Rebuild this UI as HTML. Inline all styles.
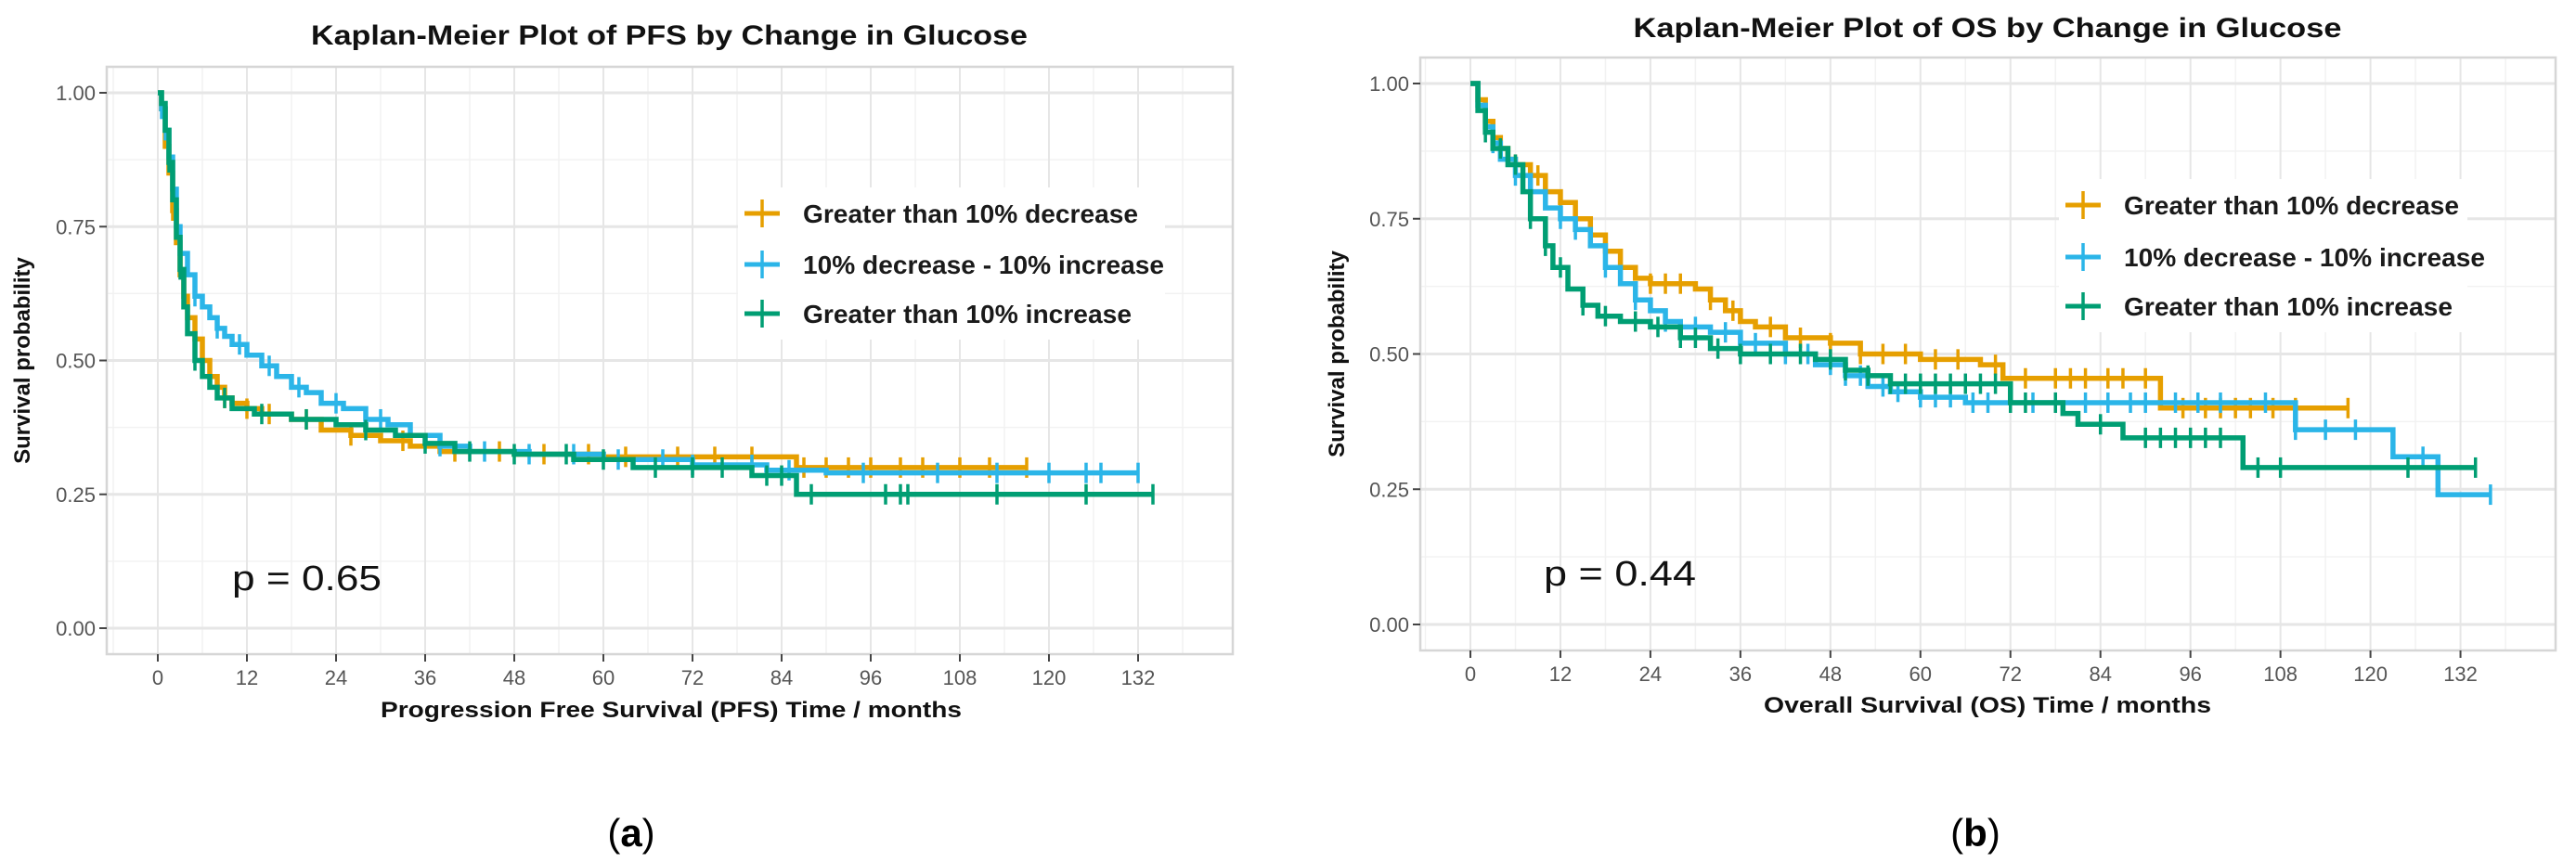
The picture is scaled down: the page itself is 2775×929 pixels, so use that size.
<!DOCTYPE html>
<html><head><meta charset="utf-8"><style>
html,body{margin:0;padding:0;background:#fff;}
svg{display:block;}
text{font-family:"Liberation Sans",Arial,sans-serif;}
</style></head><body>
<svg id="fig" width="2775" height="929" viewBox="0 0 2775 929" xmlns="http://www.w3.org/2000/svg"></svg>
<script>
// ---------- data ----------
const seriesNames = ["Greater than 10% decrease","10% decrease - 10% increase","Greater than 10% increase"];
const seriesColors = ["#E69F00","#2BB5E8","#009E73"];
const xTicks = [0,12,24,36,48,60,72,84,96,108,120,132];
const yTicks = [0,0.25,0.5,0.75,1];
const yTickLabels = ["0.00","0.25","0.50","0.75","1.00"];

// PFS (panel a)
const pfsOrangeT = [0,0.5,1,1.5,2,2.5,3,3.5,4,5,6,7,8,9,10,12,14,18,22,26,30,34,38,48,60,86];
const pfsOrangeS = [1,0.97,0.9,0.85,0.78,0.72,0.66,0.62,0.58,0.54,0.5,0.47,0.45,0.43,0.42,0.41,0.40,0.39,0.37,0.36,0.35,0.34,0.33,0.325,0.32,0.30];
const pfsOrangeEnd = 117;
const pfsOrangeCens = [2,4,6,9,12,15,20,26,33,40,46,52,58,63,70,75,80,87,90,93,96,100,103,108,112,117];
const pfsBlueT = [0,0.5,1,1.5,2,2.5,3,4,5,6,7,8,9,10,12,14,16,18,20,22,25,28,31,34,38,42,50,60,72,82,90];
const pfsBlueS = [1,0.97,0.93,0.88,0.82,0.75,0.7,0.66,0.62,0.6,0.58,0.56,0.545,0.53,0.51,0.49,0.47,0.45,0.44,0.42,0.41,0.39,0.38,0.36,0.34,0.33,0.325,0.315,0.305,0.295,0.29];
const pfsBlueEnd = 132;
const pfsBlueCens = [0.5,1,2.5,3,5,8,11,15,19,24,30,38,44,50,56,62,68,72,80,85,95,105,113,120,125,127,132];
const pfsGreenT = [0,0.5,1,1.5,2,2.5,3,3.5,4,5,6,7,8,10,13,18,24,28,32,36,40,48,56,64,80,86];
const pfsGreenS = [1,0.98,0.93,0.87,0.8,0.73,0.67,0.6,0.55,0.5,0.47,0.45,0.43,0.41,0.40,0.39,0.38,0.37,0.36,0.345,0.33,0.325,0.315,0.30,0.285,0.25];
const pfsGreenEnd = 134;
const pfsGreenCens = [1.5,3,5,9,14,20,28,36,42,48,55,60,67,72,76,82,84,88,98,100,101,113,125,134];

// OS (panel b)
const osOrangeT = [0,1,2,3,4,5,6,8,10,12,14,16,18,20,22,24,30,32,34,36,38,42,48,52,60,68,71,92];
const osOrangeS = [1,0.97,0.93,0.9,0.88,0.86,0.85,0.83,0.8,0.78,0.75,0.72,0.69,0.66,0.64,0.63,0.62,0.6,0.58,0.56,0.55,0.53,0.52,0.50,0.49,0.48,0.455,0.40];
const osOrangeEnd = 117;
const osOrangeCens = [3,6,9,12,16,20,24,26,28,32,35,40,44,48,52,55,58,62,65,70,74,78,80,82,85,87,90,95,98,100,102,104,107,110,117];
const osBlueT = [0,1,2,3,4,6,8,10,12,14,16,18,20,22,24,26,28,32,36,42,46,50,53,56,60,66,110,123,129];
const osBlueS = [1,0.96,0.92,0.89,0.86,0.83,0.8,0.77,0.75,0.73,0.70,0.66,0.63,0.6,0.58,0.56,0.55,0.54,0.52,0.5,0.48,0.46,0.44,0.43,0.42,0.41,0.36,0.31,0.24];
const osBlueEnd = 136;
const osBlueCens = [3,6,8,12,14,18,22,26,30,34,38,42,45,48,50,52,55,57,60,62,64,67,69,72,75,78,82,85,88,90,94,97,100,106,110,114,118,127,136];
const osGreenT = [0,1,2,3,5,7,8,10,11,13,15,17,20,24,28,32,36,46,50,53,56,72,79,81,87,103];
const osGreenS = [1,0.95,0.91,0.88,0.85,0.8,0.75,0.7,0.66,0.62,0.59,0.57,0.56,0.55,0.53,0.51,0.50,0.49,0.47,0.46,0.445,0.41,0.39,0.37,0.345,0.29];
const osGreenEnd = 134;
const osGreenCens = [2,4,6,8,10,12,15,18,22,25,28,30,33,36,40,44,48,50,53,56,58,60,62,64,66,68,70,72,74,78,84,90,92,94,96,98,100,105,108,125,134];

// ---------- drawing ----------
const NS = "http://www.w3.org/2000/svg";
const svg = document.getElementById("fig");
function mk(tag, attrs, parent){
  const e = document.createElementNS(NS, tag);
  for (const k in attrs) e.setAttribute(k, attrs[k]);
  (parent||svg).appendChild(e);
  return e;
}
function survAt(T,S,t){ let s=S[0]; for(let i=0;i<T.length;i++){ if(T[i]<=t) s=S[i]; } return s; }

function panel(cfg){
  const g = mk("g",{});
  
  
  const xS = t => cfg.x0 + t*cfg.pxm;
  const yS = s => cfg.y0 - s*(cfg.y0-cfg.y1);
  const bg = mk("rect",{x:cfg.L,y:cfg.T,width:cfg.R-cfg.L,height:cfg.B-cfg.T,fill:"#fff"},g);
  
  
  for (let t=-6; t<=144; t+=12){
    const x=xS(t); if(x>cfg.L&&x<cfg.R) mk("line",{x1:x,x2:x,y1:cfg.T,y2:cfg.B,stroke:"#f2f2f2","stroke-width":1.5},g);
  }
  for (let s=0.125; s<1.1; s+=0.25){
    const y=yS(s); mk("line",{x1:cfg.L,x2:cfg.R,y1:y,y2:y,stroke:"#f2f2f2","stroke-width":1.5},g);
  }
  xTicks.forEach(t=>{ const x=xS(t); mk("line",{x1:x,x2:x,y1:cfg.T,y2:cfg.B,stroke:"#e6e6e6","stroke-width":2},g); });
  yTicks.forEach(s=>{ const y=yS(s); mk("line",{x1:cfg.L,x2:cfg.R,y1:y,y2:y,stroke:"#e6e6e6","stroke-width":3},g); });
  const border = mk("rect",{x:cfg.L,y:cfg.T,width:cfg.R-cfg.L,height:cfg.B-cfg.T,fill:"none",stroke:"#d6d6d6","stroke-width":2.5},g);
  
  
  xTicks.forEach(t=>{
    const x=xS(t);
    mk("line",{x1:x,x2:x,y1:cfg.B,y2:cfg.B+8,stroke:"#444","stroke-width":2},g);
    const tx = mk("text",{x:x,y:cfg.B+33,"text-anchor":"middle","font-size":22,fill:"#555"},g);
    tx.textContent = t;
    
    
  });
  yTicks.forEach((s,i)=>{
    const y=yS(s);
    mk("line",{x1:cfg.L-8,x2:cfg.L,y1:y,y2:y,stroke:"#444","stroke-width":2},g);
    const tx = mk("text",{x:cfg.L-12,y:y+8,"text-anchor":"end","font-size":22,fill:"#555"},g);
    tx.textContent = yTickLabels[i];
    
    
  });
  const title = mk("text",{x:cfg.titleX,y:cfg.titleY,"text-anchor":"middle","font-size":30,"font-weight":"bold",fill:"#111",textLength:cfg.titleW,lengthAdjust:"spacingAndGlyphs"},g);
  title.textContent = cfg.title;
  
  
  const xl = mk("text",{x:cfg.xlabX,y:cfg.xlabY,"text-anchor":"middle","font-size":24,"font-weight":"bold",fill:"#111",textLength:cfg.xlabW,lengthAdjust:"spacingAndGlyphs"},g);
  xl.textContent = cfg.xlab;
  
  
  const yl = mk("text",{x:0,y:0,"text-anchor":"middle","font-size":24,"font-weight":"bold",fill:"#111",transform:`translate(${cfg.ylabX},${(cfg.T+cfg.B)/2}) rotate(-90)`},g);
  yl.textContent = "Survival probability";
  
  
  cfg.series.forEach((sr,si)=>{
    const sg = mk("g",{},g);
    
    
    let d = `M${xS(sr.T[0])},${yS(sr.S[0])}`;
    for (let i=1;i<sr.T.length;i++){
      d += ` H${xS(sr.T[i])} V${yS(sr.S[i])}`;
    }
    d += ` H${xS(sr.end)}`;
    mk("path",{d:d,fill:"none",stroke:seriesColors[si],"stroke-width":5.5,"stroke-linejoin":"miter"},sg);
    sr.C.forEach(t=>{
      const x=xS(t), y=yS(survAt(sr.T,sr.S,t));
      const c = mk("line",{x1:x,x2:x,y1:y-11,y2:y+11,stroke:seriesColors[si],"stroke-width":3.5},sg);
      
      
    });
  });
  const lg = mk("g",{},g);
  
  
  mk("rect",{x:cfg.legX-26,y:cfg.legY[0]-28,width:cfg.legW,height:cfg.legY[2]-cfg.legY[0]+56,fill:"#fff"},lg);
  seriesNames.forEach((n,i)=>{
    const e = mk("g",{},lg);
    
    
    const y = cfg.legY[i];
    mk("line",{x1:cfg.legX-19,x2:cfg.legX+19,y1:y,y2:y,stroke:seriesColors[i],"stroke-width":5},e);
    mk("line",{x1:cfg.legX,x2:cfg.legX,y1:y-15,y2:y+15,stroke:seriesColors[i],"stroke-width":3.5},e);
    const t = mk("text",{x:cfg.legX+44,y:y+10,"font-size":28,"font-weight":"bold",fill:"#1a1a1a",textLength:cfg.legTW[i],lengthAdjust:"spacingAndGlyphs"},e);
    t.textContent = n;
  });
  const p = mk("text",{x:cfg.pX,y:cfg.pY,"font-size":38,fill:"#111",textLength:cfg.pW,lengthAdjust:"spacingAndGlyphs"},g);
  p.textContent = cfg.pText;
  
  
  const cap = mk("text",{x:cfg.capX,y:912,"text-anchor":"middle","font-size":42,fill:"#000","font-family":"Liberation Serif, serif"},g);
  cap.innerHTML = cfg.cap;
  
  
}

panel({name:"pfs-panel",L:115,R:1328,T:72,B:705,x0:170,pxm:8.0,y0:677,y1:100,
  title:"Kaplan-Meier Plot of PFS by Change in Glucose",titleX:721,titleY:48,titleW:772,
  xlab:"Progression Free Survival (PFS) Time / months",xlabX:723,xlabY:773,xlabW:626,ylabX:32,
  legX:821,legY:[230,285,338],legW:460,legTW:[361,389,354],pX:250,pY:636,pW:161,pText:"p = 0.65",capX:680,
  cap:'(<tspan font-weight="bold">a</tspan>)',
  series:[{T:pfsOrangeT,S:pfsOrangeS,end:pfsOrangeEnd,C:pfsOrangeCens},
          {T:pfsBlueT,S:pfsBlueS,end:pfsBlueEnd,C:pfsBlueCens},
          {T:pfsGreenT,S:pfsGreenS,end:pfsGreenEnd,C:pfsGreenCens}]});

panel({name:"os-panel",L:1530,R:2753,T:62,B:701,x0:1584,pxm:8.08,y0:673,y1:90,
  title:"Kaplan-Meier Plot of OS by Change in Glucose",titleX:2141,titleY:40,titleW:763,
  xlab:"Overall Survival (OS) Time / months",xlabX:2141,xlabY:768,xlabW:482,ylabX:1448,
  legX:2244,legY:[221,277,330],legW:440,legTW:[361,389,354],pX:1663,pY:631,pW:164,pText:"p = 0.44",capX:2128,
  cap:'(<tspan font-weight="bold">b</tspan>)',
  series:[{T:osOrangeT,S:osOrangeS,end:osOrangeEnd,C:osOrangeCens},
          {T:osBlueT,S:osBlueS,end:osBlueEnd,C:osBlueCens},
          {T:osGreenT,S:osGreenS,end:osGreenEnd,C:osGreenCens}]});
</script>
</body></html>
